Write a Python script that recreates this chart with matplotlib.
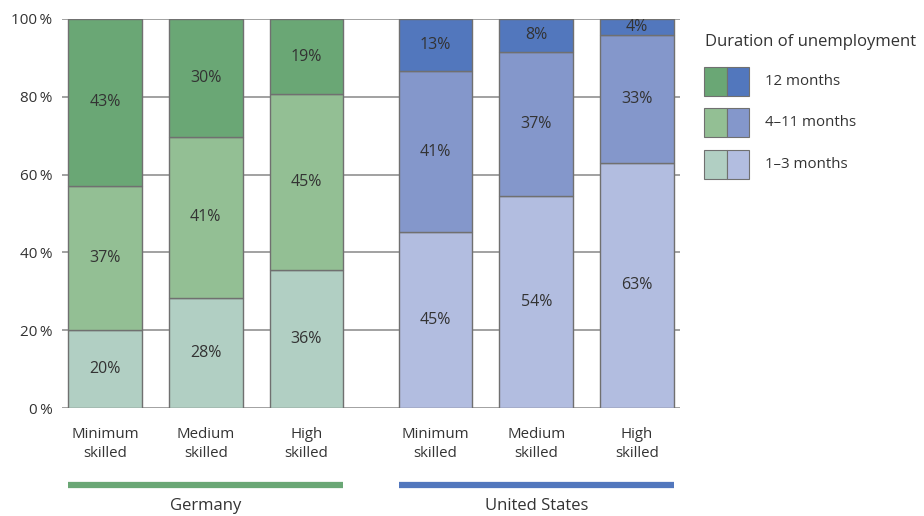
import matplotlib
matplotlib.use("Agg")
import matplotlib.pyplot as plt
from matplotlib.patches import Rectangle
import numpy as np

plt.rcParams["font.family"] = ["Open Sans", "DejaVu Sans"]

# Share of unemployed by duration, per skill level (percent)
categories = ["Minimum\nskilled", "Medium\nskilled", "High\nskilled"]
countries = ["Germany", "United States"]
short_term = {"Germany": [20.1, 28.3, 35.5], "United States": [45.2, 54.4, 63.0]}
mid_term = {"Germany": [37.0, 41.4, 45.1], "United States": [41.4, 37.2, 32.9]}
long_term = {"Germany": [42.9, 30.3, 19.4], "United States": [13.4, 8.4, 4.1]}
duration_labels = ["12 months", "4\u201311 months", "1\u20133 months"]
y_ticks = [0, 20, 40, 60, 80, 100]

COLORS = {
    "Germany": ["#b1cfc3", "#93bf94", "#6aa775"],
    "United States": ["#b2bde0", "#8497cb", "#5277bd"],
}
LINE_COLORS = {"Germany": "#6aa775", "United States": "#5277bd"}
TEXT = "#333333"
EDGE = "#707070"

fig = plt.figure(figsize=(9.24, 5.16), dpi=100)
ax = fig.add_axes([62 / 924, 1 - 408 / 516, 618 / 924, 389 / 516])

offsets = {"Germany": 0.0, "United States": 3.28}
width = 0.73

for country in countries:
    x = offsets[country] + np.arange(len(categories))
    bottom = np.zeros(len(categories))
    for seg, col in zip([short_term, mid_term, long_term], COLORS[country]):
        vals = np.array(seg[country])
        ax.bar(x, vals, width, bottom=bottom, color=col, edgecolor=EDGE,
               linewidth=1.0, zorder=3)
        for xi, b, v in zip(x, bottom, vals):
            ax.text(xi, b + v / 2, f"{v:.0f}%", ha="center", va="center",
                    fontsize=11.5, color=TEXT, zorder=4)
        bottom += vals

    # country bracket line and name under the categories
    trans = ax.get_xaxis_transform()
    ax.plot([x[0] - width / 2, x[-1] + width / 2], [-0.198, -0.198],
            color=LINE_COLORS[country], linewidth=4.5, transform=trans,
            clip_on=False, solid_capstyle="butt")
    ax.text(x[1], -0.252, country, ha="center", va="center", fontsize=12,
            color=TEXT, transform=trans)

xticks = np.concatenate([offsets[c] + np.arange(len(categories)) for c in countries])
ax.set_xticks(xticks)
ax.set_xticklabels(categories * 2, fontsize=10.8, color=TEXT, linespacing=1.3)
ax.tick_params(axis="x", length=0, pad=14)

ax.set_ylim(0, 100)
ax.set_xlim(-0.426, xticks[-1] + 0.426)
ax.set_yticks(y_ticks)
ax.set_yticklabels([f"{t}\u2009%" for t in y_ticks], fontsize=11, color=TEXT)
ax.tick_params(axis="y", length=0, pad=7)
ax.grid(axis="y", color="#9a9a9a", linewidth=1.3, zorder=0)
for s in ax.spines.values():
    s.set_visible(False)

# legend: two-colour swatches per duration
fig.text(705 / 924, 1 - 42 / 516, "Duration of unemployment", fontsize=12,
         color=TEXT, va="center", ha="left")
row_y = [81, 122, 164]
for i, (lab, yc) in enumerate(zip(duration_labels, row_y)):
    idx = 2 - i
    for j, country in enumerate(countries):
        fig.add_artist(Rectangle(((704 + 22.5 * j) / 924, 1 - (yc + 14.5) / 516),
                                 22.5 / 924, 29 / 516, transform=fig.transFigure,
                                 facecolor=COLORS[country][idx], edgecolor=EDGE,
                                 linewidth=0.8))
    fig.text(765 / 924, 1 - yc / 516, lab, fontsize=10.8, color=TEXT,
             va="center", ha="left")

fig.savefig("out.png", dpi=100)
